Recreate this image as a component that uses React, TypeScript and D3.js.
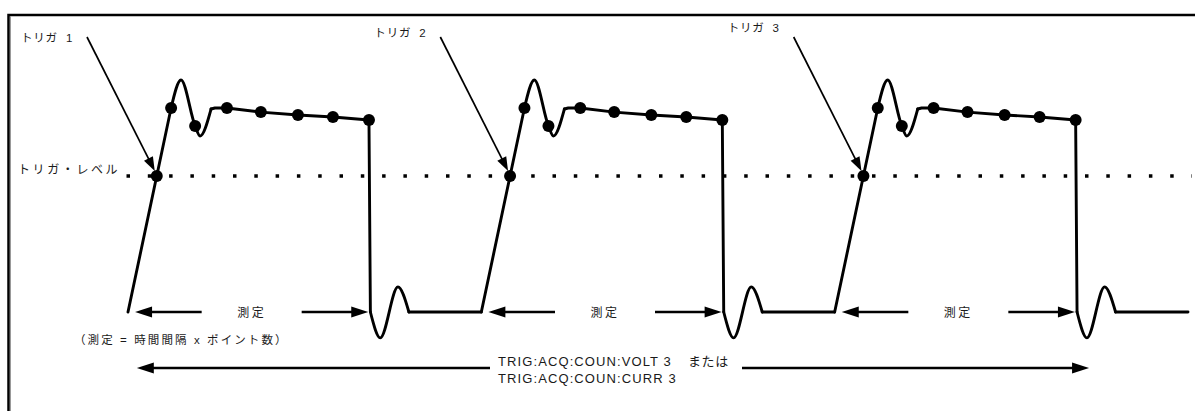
import React from "react";
import * as d3 from "d3";

// ---- data (time in arbitrary units, level in arbitrary units) ----
const PULSE_STARTS = [0, 10, 20];
const END_TIME = 30;
const TRIGGER_LEVEL = 6.67;
const TRIGGER_LABELS = ["トリガ 1", "トリガ 2", "トリガ 3"];
const RISE: [number, number][] = [[0, 0], [1.22, 10]];
const OVERSHOOT: [number, number][] = [[1.22, 10], [1.5, 11.37], [1.9, 9.12], [2.04, 8.63], [2.35, 9.95]];
const PLATEAU: [number, number][] = [[2.35, 9.95], [2.46, 10], [2.8, 10], [3.76, 9.8], [4.81, 9.66], [5.8, 9.56], [6.82, 9.41], [6.86, 0]];
const RING: [number, number][] = [[6.86, 0], [7.14, -1.27], [7.64, 1.23], [7.95, 0]];
const SAMPLE_POINTS: [number, number][] = [[1.22, 10], [1.9, 9.12], [2.8, 10], [3.76, 9.8], [4.81, 9.66], [5.8, 9.56], [6.82, 9.41]];
const MEASURE_LABEL = "測定";
const FORMULA_LABEL = "（測定 = 時間間隔 x ポイント数）";
const LEVEL_LABEL = "トリガ・レベル";
const CMD_LINE1 = "TRIG:ACQ:COUN:VOLT 3";
const CMD_OR = "または";
const CMD_LINE2 = "TRIG:ACQ:COUN:CURR 3";

const W = 1195;
const H = 411;
const FONT = "'Liberation Sans', 'Noto Sans CJK JP', sans-serif";

const x = d3.scaleLinear().domain([0, END_TIME]).range([128, 1188]);
const y = d3.scaleLinear().domain([0, 10]).range([312, 108]);

const straight = d3.line<[number, number]>().x(d => x(d[0])).y(d => y(d[1]));
const smooth = d3.line<[number, number]>().x(d => x(d[0])).y(d => y(d[1])).curve(d3.curveMonotoneX);

function shift(pts: [number, number][], s: number): [number, number][] {
  return pts.map(p => [p[0] + s, p[1]] as [number, number]);
}

function Arrow({ x1, y1, x2, y2, len, half, width }: { x1: number; y1: number; x2: number; y2: number; len: number; half: number; width: number }) {
  const dx = x2 - x1, dy = y2 - y1;
  const L = Math.hypot(dx, dy);
  const ux = dx / L, uy = dy / L;
  const bx = x2 - ux * len, by = y2 - uy * len;
  const px = -uy, py = ux;
  const pts = `${x2},${y2} ${bx + px * half},${by + py * half} ${bx - px * half},${by - py * half}`;
  return (
    <g>
      <line x1={x1} y1={y1} x2={bx + ux * 1} y2={by + uy * 1} stroke="#000" strokeWidth={width} />
      <polygon points={pts} fill="#000" />
    </g>
  );
}

export default function App() {
  const riseT = (TRIGGER_LEVEL / RISE[1][1]) * RISE[1][0];
  const labelY = [42, 37, 32];
  const segs: { d: string }[] = [];
  PULSE_STARTS.forEach((s, i) => {
    segs.push({ d: straight(shift(RISE, s)) as string });
    segs.push({ d: smooth(shift(OVERSHOOT, s)) as string });
    segs.push({ d: straight(shift(PLATEAU, s)) as string });
    segs.push({ d: smooth(shift(RING, s)) as string });
    const next = i < PULSE_STARTS.length - 1 ? PULSE_STARTS[i + 1] : END_TIME;
    segs.push({ d: straight([[s + RING[RING.length - 1][0], 0], [next, 0]]) as string });
  });

  const levelY = y(TRIGGER_LEVEL);
  const bottomY = 368;

  return (
    <svg width={W} height={H} style={{ position: "absolute", left: 0, top: 0, background: "#fff" }} fontFamily={FONT}>
      <rect width={W} height={H} fill="#fff" />
      {/* frame */}
      <path d={`M8.5,${H} V15 H${W}`} fill="none" stroke="#000" strokeWidth={2.5} />
      <line x1={10.5} y1={16} x2={10.5} y2={H} stroke="#999" strokeWidth={1} />

      {/* trigger level dotted line */}
      <line x1={x(0) - 1.5} x2={x(END_TIME) + 4} y1={levelY} y2={levelY} stroke="#000" strokeWidth={3.5} strokeDasharray="3.5 17.8" />
      <text x={18} y={174} fontSize={12} letterSpacing={2.6} fill="#1a1a1a">{LEVEL_LABEL}</text>

      {/* waveform */}
      {segs.map((sg, i) => (
        <path key={i} d={sg.d} fill="none" stroke="#000" strokeWidth={2.9} strokeLinejoin="round" strokeLinecap="round" />
      ))}

      {/* sample dots */}
      {PULSE_STARTS.map((s, i) => (
        <g key={i}>
          <circle cx={x(s + riseT)} cy={levelY} r={6} fill="#000" />
          {SAMPLE_POINTS.map((p, j) => (
            <circle key={j} cx={x(s + p[0])} cy={y(p[1])} r={6} fill="#000" />
          ))}
        </g>
      ))}

      {/* trigger labels and arrows */}
      {PULSE_STARTS.map((s, i) => {
        const tx = x(s + riseT);
        return (
          <g key={i}>
            <text x={x(s) - 107} y={labelY[i]} fontSize={11.5} letterSpacing={0.8} fill="#1a1a1a" style={{ whiteSpace: "pre" }}>{TRIGGER_LABELS[i].replace(" ", "  ")}</text>
            <Arrow x1={x(s) - 41} y1={37} x2={tx - 2} y2={levelY - 5} len={14} half={5} width={1.7} />
          </g>
        );
      })}

      {/* measurement arrows */}
      {PULSE_STARTS.map((s, i) => {
        const a = x(s + 0.2);
        const b = x(s + 6.8);
        const c = (a + b) / 2;
        const yy = y(0);
        return (
          <g key={i}>
            <Arrow x1={c - 50} y1={yy} x2={a} y2={yy} len={17} half={5.5} width={2.3} />
            <Arrow x1={c + 50} y1={yy} x2={b} y2={yy} len={17} half={5.5} width={2.3} />
            <text x={c} y={yy + 4.5} fontSize={12} letterSpacing={2.5} textAnchor="middle" fill="#1a1a1a">{MEASURE_LABEL}</text>
          </g>
        );
      })}
      <text x={74} y={343.5} fontSize={11.5} letterSpacing={2.1} fill="#1a1a1a">{FORMULA_LABEL}</text>

      {/* bottom count arrow */}
      <Arrow x1={490} y1={bottomY} x2={x(0.25)} y2={bottomY} len={17} half={5.5} width={2.3} />
      <Arrow x1={742} y1={bottomY} x2={x(27.2)} y2={bottomY} len={17} half={5.5} width={2.3} />
      <text x={498} y={366} fontSize={13} letterSpacing={1.1} fill="#1a1a1a">{CMD_LINE1}</text>
      <text x={688} y={366} fontSize={13} letterSpacing={0.6} fill="#1a1a1a">{CMD_OR}</text>
      <text x={498} y={383} fontSize={13} letterSpacing={1.1} fill="#1a1a1a">{CMD_LINE2}</text>
    </svg>
  );
}
